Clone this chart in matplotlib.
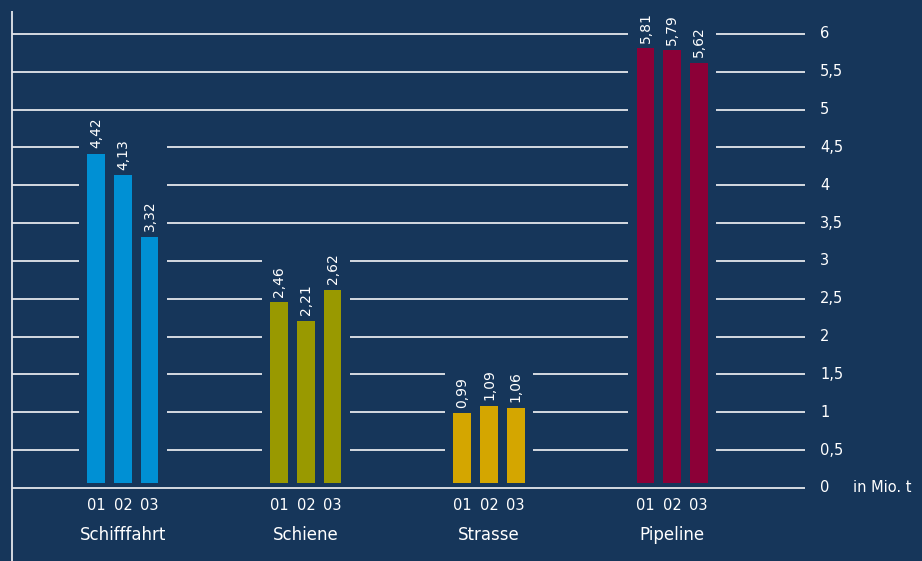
import numpy as np
from matplotlib import pyplot as plt

# data
categories = ['Schifffahrt', 'Schiene', 'Strasse', 'Pipeline']
years = ['01', '02', '03']
values = [
    [4.42, 4.13, 3.32],
    [2.46, 2.21, 2.62],
    [0.99, 1.09, 1.06],
    [5.81, 5.79, 5.62],
]
colors = ['#0090d4', '#999900', '#d4a600', '#8c0037']
y_ticks = np.arange(0, 6.01, 0.5)

BG = '#16365a'
LINE = '#e4e7ec'

fig = plt.figure(figsize=(9.22, 5.61), dpi=100, facecolor=BG)
ax = fig.add_axes([0, 0, 1, 1])
ax.set_facecolor(BG)
ax.set_xlim(-0.672, 4.366)
ax.set_ylim(-0.965, 6.449)
ax.axis('off')

offsets = [-0.145, 0.0, 0.145]
bar_w = 0.098
gap = 0.238
x_left, x_right = -0.607, 3.727
base = 0.065
label_h = 0.5  # room taken by the rotated value labels

# gridlines, broken only where a group's bars + labels reach
for yv in y_ticks:
    pieces = []
    start = x_left
    for i in range(len(categories)):
        if yv > 0 and yv < max(values[i]) + label_h:
            pieces.append((start, i - gap))
            start = i + gap
    pieces.append((start, x_right))
    for s, e in pieces:
        ax.hlines(yv, s, e, color=LINE, lw=1.3)
    ax.text(3.809, yv, ('%g' % yv).replace('.', ','), color='white',
            fontsize=10.5, ha='left', va='center')

ax.text(3.989, 0, 'in Mio. t', color='white', fontsize=10.5, ha='left', va='center')
ax.vlines(x_left, -0.965, 6.30, color=LINE, lw=1.3)

for i, cat in enumerate(categories):
    for j, v in enumerate(values[i]):
        x = i + offsets[j]
        ax.bar(x, v - base, bottom=base, width=bar_w, color=colors[i], zorder=3)
        ax.text(x, v + 0.07, ('%.2f' % v).replace('.', ','), color='white',
                fontsize=10, rotation=90, ha='center', va='bottom')
        ax.text(x, -0.225, years[j], color='white', fontsize=10.5,
                ha='center', va='center')
    ax.text(i, -0.62, cat, color='white', fontsize=12, ha='center', va='center')

fig.savefig('out.png', dpi=100, facecolor=BG)
